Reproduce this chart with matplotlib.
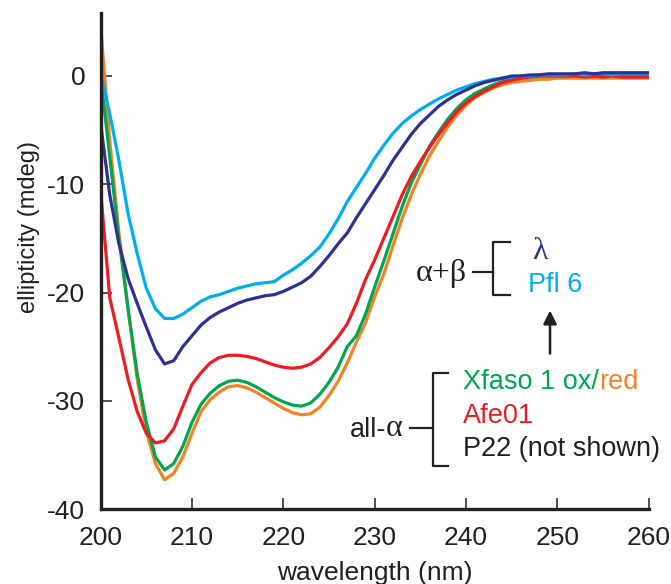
import numpy as np
import matplotlib.pyplot as plt

plt.rcParams['font.family'] = ['Liberation Sans', 'DejaVu Sans']
plt.rcParams['axes.unicode_minus'] = False

# CD spectra (1 nm steps, 200-260 nm)
wavelength = np.arange(200, 261, 1)

pfl6 = [0.3, -3.5, -7.8, -12.7, -16.4, -19.6, -21.5, -22.4, -22.4, -22.0,
        -21.4, -20.8, -20.4, -20.2, -19.9, -19.6, -19.4, -19.2, -19.1, -19.0,
        -18.4, -17.9, -17.3, -16.6, -15.8, -14.6, -13.2, -11.6, -10.3, -9.0,
        -7.6, -6.4, -5.3, -4.4, -3.7, -3.1, -2.6, -2.1, -1.7, -1.3,
        -1.0, -0.7, -0.5, -0.3, -0.2, -0.1, 0.0, 0.0, 0.1, 0.1,
        0.1, 0.1, 0.2, 0.1, 0.2, 0.2, 0.1, 0.2, 0.2, 0.2, 0.2]

lambda_ = [-4.4, -11.0, -15.5, -18.7, -21.0, -23.2, -25.3, -26.6, -26.3, -25.0,
           -24.0, -23.0, -22.3, -21.8, -21.4, -21.0, -20.7, -20.5, -20.3, -20.2,
           -19.9, -19.5, -19.1, -18.5, -17.6, -16.6, -15.5, -14.5, -13.1, -11.8,
           -10.5, -9.2, -7.8, -6.6, -5.4, -4.4, -3.6, -2.8, -2.2, -1.7,
           -1.3, -0.9, -0.6, -0.4, -0.2, 0.0, 0.0, 0.1, 0.1, 0.2,
           0.2, 0.2, 0.2, 0.3, 0.2, 0.3, 0.3, 0.3, 0.3, 0.3, 0.3]

afe01 = [-10.6, -20.5, -24.2, -28.0, -31.0, -33.0, -33.9, -33.7, -32.6, -30.5,
         -28.5, -27.4, -26.5, -26.0, -25.8, -25.8, -25.9, -26.1, -26.4, -26.7,
         -26.9, -27.0, -26.9, -26.6, -26.0, -25.1, -24.1, -22.9, -21.0, -18.8,
         -17.0, -15.0, -13.0, -11.0, -9.3, -7.9, -6.6, -5.4, -4.3, -3.3,
         -2.5, -1.9, -1.4, -1.0, -0.6, -0.4, -0.2, -0.1, 0.0, 0.0,
         0.0, 0.0, 0.0, -0.1, 0.0, -0.1, 0.0, -0.1, -0.1, -0.1, -0.1]

xfaso_ox = [0.0, -7.5, -15.0, -21.5, -27.5, -32.0, -35.2, -36.4, -35.8, -34.2,
            -32.0, -30.3, -29.3, -28.6, -28.2, -28.1, -28.3, -28.7, -29.2, -29.7,
            -30.1, -30.4, -30.5, -30.2, -29.4, -28.3, -26.9, -25.0, -24.0, -22.0,
            -19.5, -17.1, -14.6, -12.1, -9.9, -8.2, -6.5, -5.2, -4.0, -3.0,
            -2.2, -1.6, -1.2, -0.8, -0.5, -0.3, -0.2, -0.1, 0.0, 0.0,
            0.0, 0.0, 0.1, 0.0, 0.0, 0.0, 0.1, 0.0, 0.0, 0.0, 0.0]

xfaso_red = [4.6, -6.0, -14.5, -21.5, -28.0, -32.8, -35.8, -37.3, -36.7, -35.2,
             -33.0, -31.0, -29.9, -29.2, -28.7, -28.6, -28.8, -29.2, -29.7, -30.2,
             -30.7, -31.1, -31.3, -31.2, -30.6, -29.5, -28.2, -26.5, -24.6, -22.8,
             -20.4, -18.3, -15.7, -13.2, -11.0, -9.1, -7.4, -6.0, -4.7, -3.6,
             -2.7, -2.0, -1.5, -1.1, -0.8, -0.6, -0.5, -0.4, -0.3, -0.3,
             -0.2, -0.2, -0.2, -0.2, -0.2, -0.2, -0.2, -0.2, -0.2, -0.2, -0.2]

c_lambda = '#2e3192'
c_pfl6 = '#00aeef'
c_ox = '#00a651'
c_red = '#f58220'
c_afe = '#ed1c24'

fig = plt.figure(figsize=(6.71, 5.84), dpi=100)
ax = fig.add_axes([0.150, 0.1284, 0.8167, 0.849])

lw = 2.3
ax.plot(wavelength, xfaso_red, color=c_red, lw=lw)
ax.plot(wavelength, xfaso_ox, color=c_ox, lw=lw)
ax.plot(wavelength, afe01, color=c_afe, lw=lw)
ax.plot(wavelength, pfl6, color=c_pfl6, lw=lw)
ax.plot(wavelength, lambda_, color=c_lambda, lw=lw)

ax.set_xlim(200, 260)
ax.set_ylim(-40, 5.8)
ax.set_xticks(np.arange(200, 261, 10))
ax.set_yticks([0, -10, -20, -30, -40])

for s in ['top', 'right']:
    ax.spines[s].set_visible(False)
for s in ['left', 'bottom']:
    ax.spines[s].set_linewidth(2.4)
    ax.spines[s].set_color('#231f20')

ax.tick_params(axis='both', direction='in', length=8, width=1.1,
               color='#231f20', labelsize=19, labelcolor='#231f20')
ax.tick_params(axis='x', pad=12)
ax.tick_params(axis='y', pad=11)

ax.set_xlabel('wavelength (nm)', fontsize=19, color='#231f20', va='baseline')
ax.xaxis.set_label_coords(0.5, -0.143)
ax.set_ylabel('ellipticity (mdeg)', fontsize=17, color='#231f20', va='center')
ax.yaxis.set_label_coords(-0.131, 0.569)

# annotation: alpha+beta group
k = '#231f20'
fs = 19.5
gfs = 23
serif = ['Liberation Serif', 'DejaVu Serif']
ax.text(240.1, -18.2, 'α+β', ha='right', va='center', fontsize=gfs, color=k,
        family=serif)
ax.plot([240.8, 243.0], [-18.1, -18.1], color=k, lw=1.6)
ax.plot([244.8, 243.0, 243.0, 244.8], [-15.3, -15.3, -20.2, -20.2], color=k, lw=1.6)
ax.text(247.2, -16.2, 'λ', ha='left', va='center', fontsize=gfs, color=c_lambda,
        family=serif)
ax.text(246.8, -19.3, 'Pfl 6', ha='left', va='center', fontsize=fs, color=c_pfl6)

# arrow
ax.annotate('', xy=(249.2, -21.4), xytext=(249.2, -25.9),
            arrowprops=dict(arrowstyle='-|>', color=k, lw=1.8, mutation_scale=20))

# annotation: all-alpha group
ta = ax.text(233.1, -32.6, 'α', ha='right', va='center', fontsize=gfs, color=k,
             family=serif)
ax.annotate('all-', xy=(0, 0.45), xycoords=ta, ha='right', va='center',
            fontsize=fs, color=k)
ax.plot([233.9, 236.4], [-32.5, -32.5], color=k, lw=1.6)
ax.plot([238.0, 236.4, 236.4, 238.0], [-27.4, -27.4, -36.0, -36.0], color=k, lw=1.6)
t1 = ax.text(239.7, -28.3, 'Xfaso 1 ox/', ha='left', va='center', fontsize=fs, color=c_ox)
ax.annotate('red', xy=(1, 0.5), xycoords=t1, ha='left', va='center',
            fontsize=fs, color=c_red)
ax.text(239.7, -31.4, 'Afe01', ha='left', va='center', fontsize=fs, color=c_afe)
ax.text(239.7, -34.5, 'P22 (not shown)', ha='left', va='center', fontsize=fs, color=k)

fig.savefig('out.png', dpi=100)
